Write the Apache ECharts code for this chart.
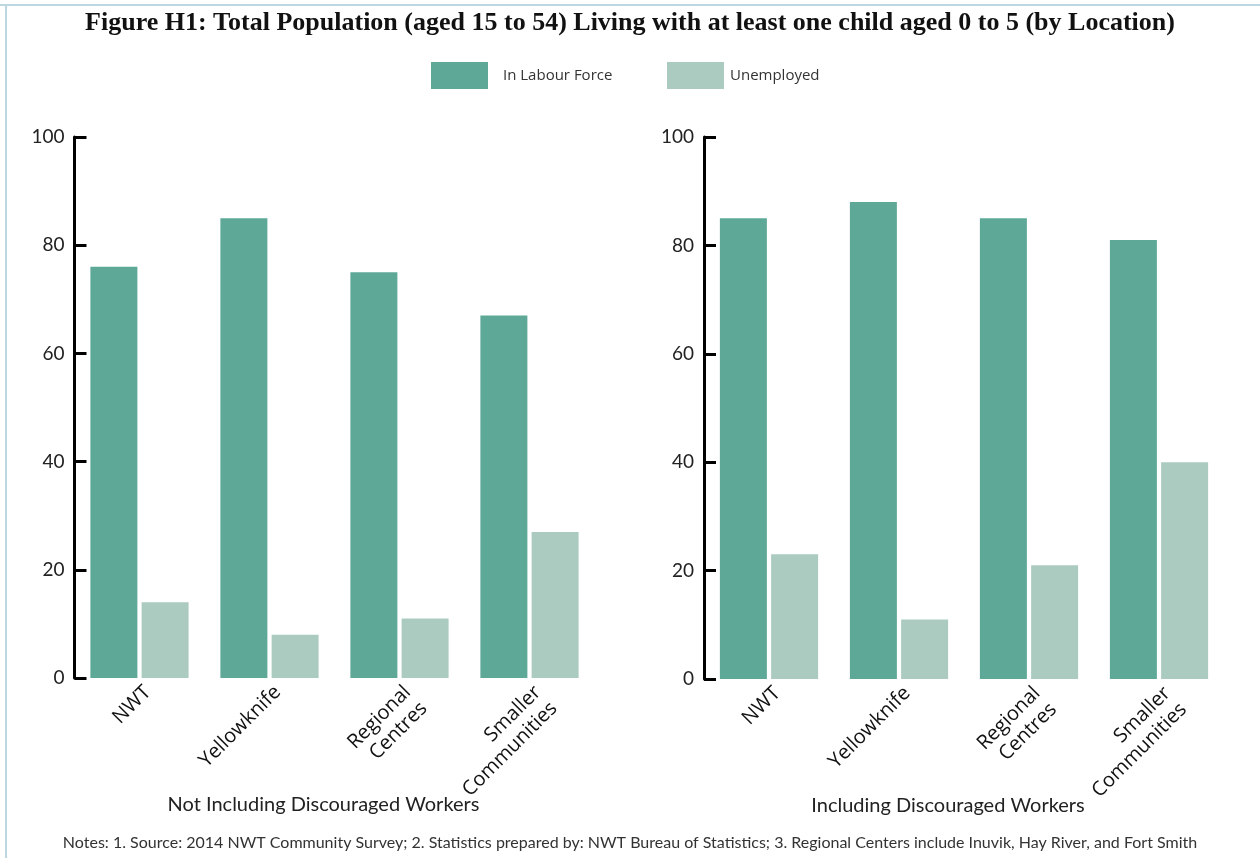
<!DOCTYPE html>
<html>
<head>
<meta charset="utf-8">
<script src="https://cdn.jsdelivr.net/npm/echarts@6/dist/echarts.min.js"></script>
<style>html,body{margin:0;padding:0;background:#fff}#c{width:1260px;height:858px}</style>
</head>
<body>
<div id="c"></div>
<script>
const categories = ['NWT', 'Yellowknife', 'Regional\nCentres', 'Smaller\nCommunities'];
const seriesNames = ['In Labour Force', 'Unemployed'];
const notInclLabour = [76, 85, 75, 67];
const notInclUnemp = [14, 8, 11, 27];
const inclLabour = [85, 88, 85, 81];
const inclUnemp = [23, 11, 21, 40];
const panelTitles = ['Not Including Discouraged Workers', 'Including Discouraged Workers'];
const titleText = 'Figure H1: Total Population (aged 15 to 54) Living with at least one child aged 0 to 5 (by Location)';
const notesText = 'Notes: 1. Source: 2014 NWT Community Survey; 2. Statistics prepared by: NWT Bureau of Statistics; 3. Regional Centers include Inuvik, Hay River, and Fort Smith';

const colors = ['#5ea898', '#accbc0'];
const sans = 'Lato, "Open Sans", sans-serif';

function yAx(gi) {
  return {
    type: 'value', gridIndex: gi, min: 0, max: 100, interval: 20,
    axisLine: { show: true, lineStyle: { color: '#000', width: 3 } },
    axisTick: { show: true, inside: true, length: 12, lineStyle: { color: '#000', width: 3 } },
    axisLabel: { color: '#222', fontSize: 19, fontFamily: sans, margin: 10 },
    splitLine: { show: false }
  };
}
function xAx(gi, name, shift) {
  return {
    type: 'category', gridIndex: gi, data: categories,
    axisLine: { show: false }, axisTick: { show: false },
    axisLabel: { rotate: 45, color: '#111', fontSize: 20, fontFamily: '"Open Sans", sans-serif',
      margin: 3, lineHeight: 23, verticalAlign: 'top', interval: 0 },
    name: name, nameLocation: 'middle', nameGap: 117, nameMoveOverlap: false,
    nameTextStyle: { color: '#222', fontSize: 20, fontFamily: sans, padding: [0, shift, 0, 0] }
  };
}
function bar(name, data, idx, c) {
  return {
    type: 'bar', name: name, data: data, xAxisIndex: idx, yAxisIndex: idx,
    barWidth: 47, barGap: '9%', itemStyle: { color: c }, silent: true
  };
}

const chart = echarts.init(document.getElementById('c'), null, { renderer: 'canvas' });
chart.setOption({
  animation: false,
  title: [{
    text: titleText, left: 'center', top: 5, padding: [5, 0, 5, 10],
    textStyle: { fontFamily: '"Liberation Serif", serif', fontWeight: 'bold', fontSize: 26, color: '#111' }
  }],
  legend: [
    { data: [seriesNames[0]], left: 431, top: 62, itemWidth: 57, itemHeight: 27, icon: 'rect', padding: 0,
      textStyle: { fontFamily: '"Open Sans", sans-serif', fontSize: 15, color: '#333', padding: [4, 0, 0, 10] } },
    { data: [seriesNames[1]], left: 667, top: 62, itemWidth: 57, itemHeight: 27, icon: 'rect', padding: 0,
      textStyle: { fontFamily: '"Open Sans", sans-serif', fontSize: 15, color: '#333', padding: [0, 0, 0, 1] } }
  ],
  grid: [
    { left: 74.5, top: 137, width: 520, height: 541 },
    { left: 704, top: 137, width: 520, height: 542 }
  ],
  xAxis: [xAx(0, panelTitles[0], 22), xAx(1, panelTitles[1], 32)],
  yAxis: [yAx(0), yAx(1)],
  series: [
    bar(seriesNames[0], notInclLabour, 0, colors[0]),
    bar(seriesNames[1], notInclUnemp, 0, colors[1]),
    bar(seriesNames[0], inclLabour, 1, colors[0]),
    bar(seriesNames[1], inclUnemp, 1, colors[1])
  ],
  graphic: [
    { type: 'line', shape: { x1: 0, y1: 5, x2: 1260, y2: 5 }, style: { stroke: '#bcd7df', lineWidth: 2 } },
    { type: 'line', shape: { x1: 6, y1: 4, x2: 6, y2: 858 }, style: { stroke: '#bcd7df', lineWidth: 2 } },
    { type: 'text', left: 'center', top: 835,
      style: { text: notesText, fontFamily: sans, fontSize: 16, fill: '#333' } }
  ]
});
</script>
</body>
</html>
